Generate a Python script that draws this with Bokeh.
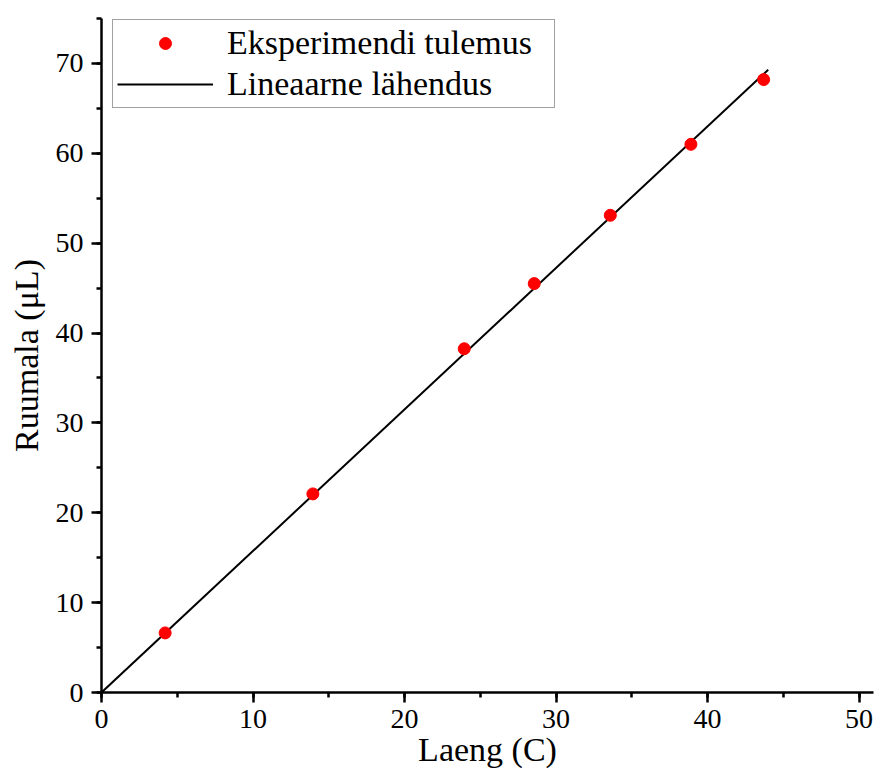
from bokeh.plotting import figure
from bokeh.models import Range1d, SingleIntervalTicker, Legend, LegendItem
from bokeh.embed import file_html
from bokeh.resources import INLINE

# Data
charge_c = [4.2, 13.95, 23.94, 28.56, 33.58, 38.9, 43.7]
volume_ul = [6.63, 22.1, 38.25, 45.5, 53.1, 61.0, 68.2]
fit_x = [0.0, 44.0]
fit_y = [0.0, 69.3]

x_label = "Laeng (C)"
y_label = "Ruumala (μL)"
series_names = ["Eksperimendi tulemus", "Lineaarne lähendus"]

FONT = "Liberation Serif"

p = figure(width=876, height=774, output_backend="svg", toolbar_location=None,
           x_range=Range1d(0, 50.95), y_range=Range1d(0, 75),
           min_border_left=101, min_border_right=3, min_border_top=18, min_border_bottom=82)

p.outline_line_color = None
p.xgrid.grid_line_color = None
p.ygrid.grid_line_color = None
p.background_fill_color = "white"
p.border_fill_color = "white"

line_r = p.line(fit_x, fit_y, line_color="black", line_width=2)
pts_r = p.scatter(charge_c, volume_ul, size=12, fill_color="#ff0000", line_color="#ff0000")

for ax, lab in ((p.xaxis[0], x_label), (p.yaxis[0], y_label)):
    ax.ticker = SingleIntervalTicker(interval=10, num_minor_ticks=2)
    ax.axis_label = lab
    ax.axis_label_text_font = FONT
    ax.axis_label_text_font_size = "34px"
    ax.axis_label_text_font_style = "normal"
    ax.axis_label_text_color = "black"
    ax.major_label_text_font = FONT
    ax.major_label_text_font_size = "28px"
    ax.major_label_text_color = "black"
    ax.axis_line_width = 2.5
    ax.axis_line_color = "black"
    ax.major_tick_line_width = 2.5
    ax.minor_tick_line_width = 2.5
    ax.major_tick_line_color = "black"
    ax.minor_tick_line_color = "black"
    ax.major_tick_in = 0
    ax.major_tick_out = 10
    ax.minor_tick_in = 0
    ax.minor_tick_out = 5

p.xaxis.major_label_standoff = 7
p.xaxis.axis_label_standoff = 0
p.yaxis.major_label_standoff = 8
p.yaxis.axis_label_standoff = 8

legend = Legend(items=[LegendItem(label=series_names[0], renderers=[pts_r]),
                       LegendItem(label=series_names[1], renderers=[line_r])],
                location=(11, 584))
legend.label_text_font = FONT
legend.label_text_font_size = "34px"
legend.label_text_color = "black"
legend.glyph_width = 96
legend.glyph_height = 30
legend.label_height = 30
legend.label_width = 323
legend.label_standoff = 14
legend.spacing = 3
legend.padding = 4
legend.margin = 0
legend.border_line_color = "#444444"
legend.border_line_width = 1.2
legend.background_fill_alpha = 1
p.add_layout(legend, "center")

html = file_html(p, INLINE)
open("out.html", "w").write(html)
